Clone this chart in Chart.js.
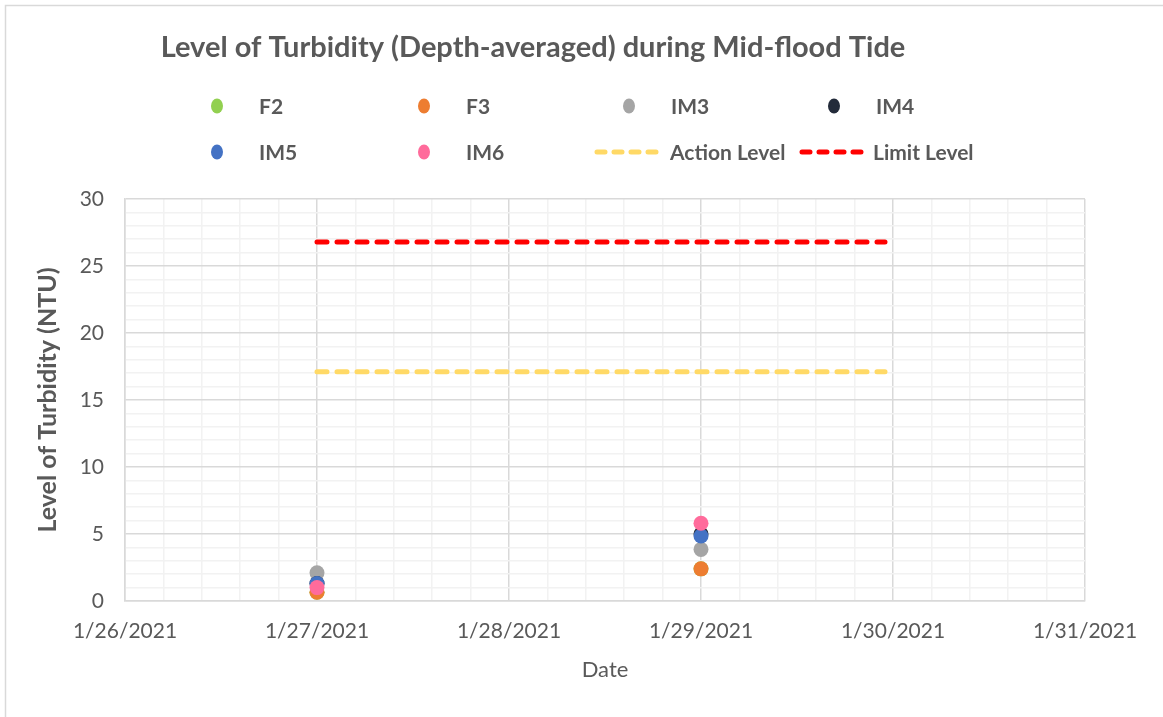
<!DOCTYPE html>
<html lang="en">
<head>
<meta charset="UTF-8">
<title>Level of Turbidity (Depth-averaged) during Mid-flood Tide</title>
<script src="https://cdn.jsdelivr.net/npm/chart.js"></script>
<style>
    html, body { margin: 0; padding: 0; background: #fff; }
    #wrap { width: 1163px; height: 717px; position: relative; }
</style>
</head>
<body>
<div id="wrap"><canvas id="turbChart" width="1163" height="717"></canvas></div>
<script>
// ---- data ----
const startDate = '2021-01-26';
const dateTicks = ['1/26/2021', '1/27/2021', '1/28/2021', '1/29/2021', '1/30/2021', '1/31/2021'];
const sampleDates = ['2021-01-27', '2021-01-29'];

const f2  = [0.65, 2.4];
const f3  = [0.65, 2.4];
const im3 = [2.1, 3.85];
const im4 = [1.3, 5.0];
const im5 = [1.3, 4.85];
const im6 = [1.0, 5.8];

const levelDates = ['2021-01-27T00:00', '2021-01-29T23:00'];
const actionLevel = [17.1, 17.1];
const limitLevel  = [26.8, 26.8];

// ---- helpers ----
const DAY = 86400000;
const t0 = new Date(startDate + 'T00:00').getTime();
function dayIndex(d) {
    const s = d.length === 10 ? d + 'T00:00' : d;
    return (new Date(s).getTime() - t0) / DAY;
}
function pts(dates, vals) {
    return vals.map((v, i) => ({ x: dayIndex(dates[i]), y: v }));
}

const textGrey = '#595959';
const fontFam = 'Lato, "Open Sans", sans-serif';

function scatterSet(label, vals, color) {
    return {
        type: 'scatter', label: label, data: pts(sampleDates, vals),
        backgroundColor: color, borderColor: color,
        pointRadius: 7.5, pointHoverRadius: 7.5, borderWidth: 0
    };
}
function levelSet(label, vals, color) {
    return {
        type: 'line', label: label, data: pts(levelDates, vals),
        borderColor: color, backgroundColor: color, borderWidth: 5,
        borderDash: [10, 10], borderCapStyle: 'round',
        pointRadius: 0, fill: false, showLine: true
    };
}

const datasets = [
    scatterSet('F2', f2, '#92d050'),
    scatterSet('F3', f3, '#ed7d31'),
    scatterSet('IM3', im3, '#a5a5a5'),
    scatterSet('IM4', im4, '#232b3a'),
    scatterSet('IM5', im5, '#4472c4'),
    scatterSet('IM6', im6, '#ff6b9b'),
    levelSet('Action Level', actionLevel, '#ffd966'),
    levelSet('Limit Level', limitLevel, '#ff0000')
];
// draw the points above the level lines
datasets.forEach((d, i) => { d.order = d.type === 'line' ? 10 : 8 - i; });

// title, legend and outer frame drawn on the canvas
const decor = {
    id: 'decor',
    afterDraw(chart) {
        const c = chart.ctx;
        c.save();
        c.strokeStyle = '#d9d9d9';
        c.lineWidth = 1.5;
        c.beginPath();
        c.moveTo(5.5, 717); c.lineTo(5.5, 5.5); c.lineTo(1163, 5.5);
        c.stroke();

        c.fillStyle = textGrey;
        c.font = 'bold 29px ' + fontFam;
        c.textAlign = 'center';
        c.textBaseline = 'middle';
        c.fillText('Level of Turbidity (Depth-averaged) during Mid-flood Tide', 533, 48);

        c.font = 'bold 21px ' + fontFam;
        c.textAlign = 'left';
        const slots = [[217, 106], [424, 106], [629, 106], [834, 106], [217, 152], [424, 152]];
        datasets.slice(0, 6).forEach((d, i) => {
            const [x, y] = slots[i];
            c.fillStyle = d.backgroundColor;
            c.beginPath(); c.ellipse(x, y, 6, 7.5, 0, 0, Math.PI * 2); c.fill();
            c.fillStyle = textGrey;
            c.fillText(d.label, x + 42, y + 1);
        });
        const lineSlots = [[597, 663, 152], [802, 866, 152]];
        datasets.slice(6).forEach((d, i) => {
            const [x1, x2, y] = lineSlots[i];
            c.strokeStyle = d.borderColor;
            c.lineWidth = 5;
            c.lineCap = 'round';
            c.setLineDash([8, 9]);
            c.beginPath(); c.moveTo(x1, y); c.lineTo(x2, y); c.stroke();
            c.setLineDash([]);
            c.fillStyle = textGrey;
            c.fillText(d.label, x2 + 7, y + 1);
        });
        c.restore();
    }
};

function near(v, n) { return Math.abs(v - Math.round(v / n) * n) < 1e-6; }

new Chart(document.getElementById('turbChart'), {
    data: { datasets: datasets },
    options: {
        responsive: false,
        animation: false,
        layout: { padding: { top: 199, right: 78, bottom: 30, left: 33 } },
        plugins: { legend: { display: false }, title: { display: false }, tooltip: { enabled: false } },
        scales: {
            x: {
                type: 'linear', min: 0, max: dateTicks.length - 1,
                ticks: {
                    stepSize: 0.2, autoSkip: false, maxRotation: 0,
                    color: textGrey, font: { family: fontFam, size: 21 }, padding: 18,
                    callback: v => near(v, 1) ? dateTicks[Math.round(v)] : ''
                },
                grid: {
                    color: ctx => near(ctx.tick.value, 1) ? '#d9d9d9' : '#f2f2f2',
                    lineWidth: 1.5, drawTicks: false
                },
                border: { color: '#d9d9d9', width: 1.5 },
                title: { display: true, text: 'Date', color: textGrey, font: { family: fontFam, size: 22 }, padding: { top: 10 } },
                afterFit: s => { s.height = 86; }
            },
            y: {
                type: 'linear', min: 0, max: 30,
                ticks: {
                    stepSize: 1, autoSkip: false,
                    color: textGrey, font: { family: fontFam, size: 21 }, padding: 21,
                    callback: v => near(v, 5) ? v : ''
                },
                grid: {
                    color: ctx => near(ctx.tick.value, 5) ? '#d9d9d9' : '#f2f2f2',
                    lineWidth: 1.5, drawTicks: false
                },
                border: { color: '#d9d9d9', width: 1.5 },
                title: { display: true, text: 'Level of Turbidity (NTU)', color: textGrey, font: { family: fontFam, size: 25, weight: 'bold' }, padding: 0 },
                afterFit: s => { s.width = 92; }
            }
        }
    },
    plugins: [decor]
});
</script>
</body>
</html>
